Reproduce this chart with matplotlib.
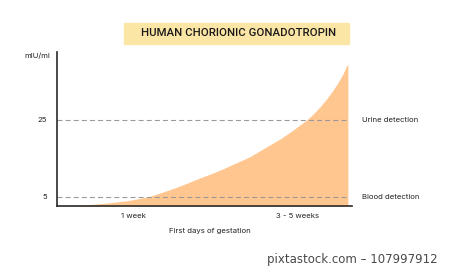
import matplotlib.pyplot as plt
from matplotlib.patches import Rectangle

# hCG curve (x: 0..100 along the axis, y: mIU/ml)
days = [1, 5.1, 10, 16.3, 24, 30.8, 35, 40, 44, 48.5, 53, 57, 61, 65.4, 70,
        75.6, 80, 84.6, 87, 89.2, 91.5, 93.6, 95.2, 96.8, 98.2, 98.6]
hcg = [2.6, 2.7, 2.9, 3.3, 4.0, 4.95, 6.0, 7.3, 8.5, 9.9, 11.2, 12.5, 13.9,
       15.4, 17.5, 20.0, 22.3, 24.9, 26.6, 28.4, 30.5, 32.7, 34.6, 36.7,
       39.0, 39.5]

tick_pos = [26, 81.4]
tick_labels = ['1 week', '3 - 5 weeks']
levels = [5, 25]
level_labels = ['Blood detection', 'Urine detection']

FILL = '#FFC690'
TXT = '#222222'
font = 'Inter'

fig = plt.figure(figsize=(4.5, 2.69), dpi=100)
ax = fig.add_axes([57 / 450, 1 - 206 / 269, 295 / 450, 154 / 269])

ax.fill_between(days, 2.6, hcg, color=FILL, linewidth=0, zorder=1)

for lvl, lab in zip(levels, level_labels):
    ax.plot([0, days[-1]], [lvl, lvl], color='#9a9a9a', lw=0.8,
            dashes=(4.5, 2.8), zorder=2)
    ax.annotate(lab, xy=(1, lvl), xycoords=('axes fraction', 'data'),
                xytext=(7, 0), textcoords='offset points',
                ha='left', va='center', fontsize=5.6, color=TXT,
                family=font)

ax.set_xlim(0, 100)
ax.set_ylim(2.6, 42.6)
ax.set_xticks(tick_pos)
ax.set_xticklabels(tick_labels, fontsize=5.6, color=TXT, family=font)
ax.set_yticks(levels)
ax.set_yticklabels([str(v) for v in levels], fontsize=5.6, color=TXT,
                   family=font)
ax.tick_params(length=0, pad=5)
ax.tick_params(axis='y', pad=7)

for s in ['top', 'right']:
    ax.spines[s].set_visible(False)
for s in ['left', 'bottom']:
    ax.spines[s].set_color('#2a2a2a')
    ax.spines[s].set_linewidth(1.2)

ax.text((210 - 57) / 295, -25 / 154, 'First days of gestation',
        transform=ax.transAxes, ha='center', va='center', fontsize=5.6,
        color=TXT, family=font)

fig.text(50 / 450, 1 - 56 / 269, 'mIU/ml', ha='right', va='center',
         fontsize=5.6, color=TXT, family=font)

# title box
fig.patches.append(Rectangle((124 / 450, 1 - 44 / 269), 225 / 450, 21 / 269,
                             transform=fig.transFigure, color='#FCE6A6',
                             zorder=0))
fig.text(238.5 / 450, 1 - 33.5 / 269, 'HUMAN CHORIONIC GONADOTROPIN',
         ha='center', va='center', fontsize=8.2, fontweight='medium',
         color='#1a1a1a', family='Roboto')

fig.text(438 / 450, 1 - 260 / 269, 'pixtastock.com \u2013 107997912',
         ha='right', va='center', fontsize=8.5, color='#4a4a4a',
         family='DejaVu Sans')

fig.savefig('out.png', dpi=100)
